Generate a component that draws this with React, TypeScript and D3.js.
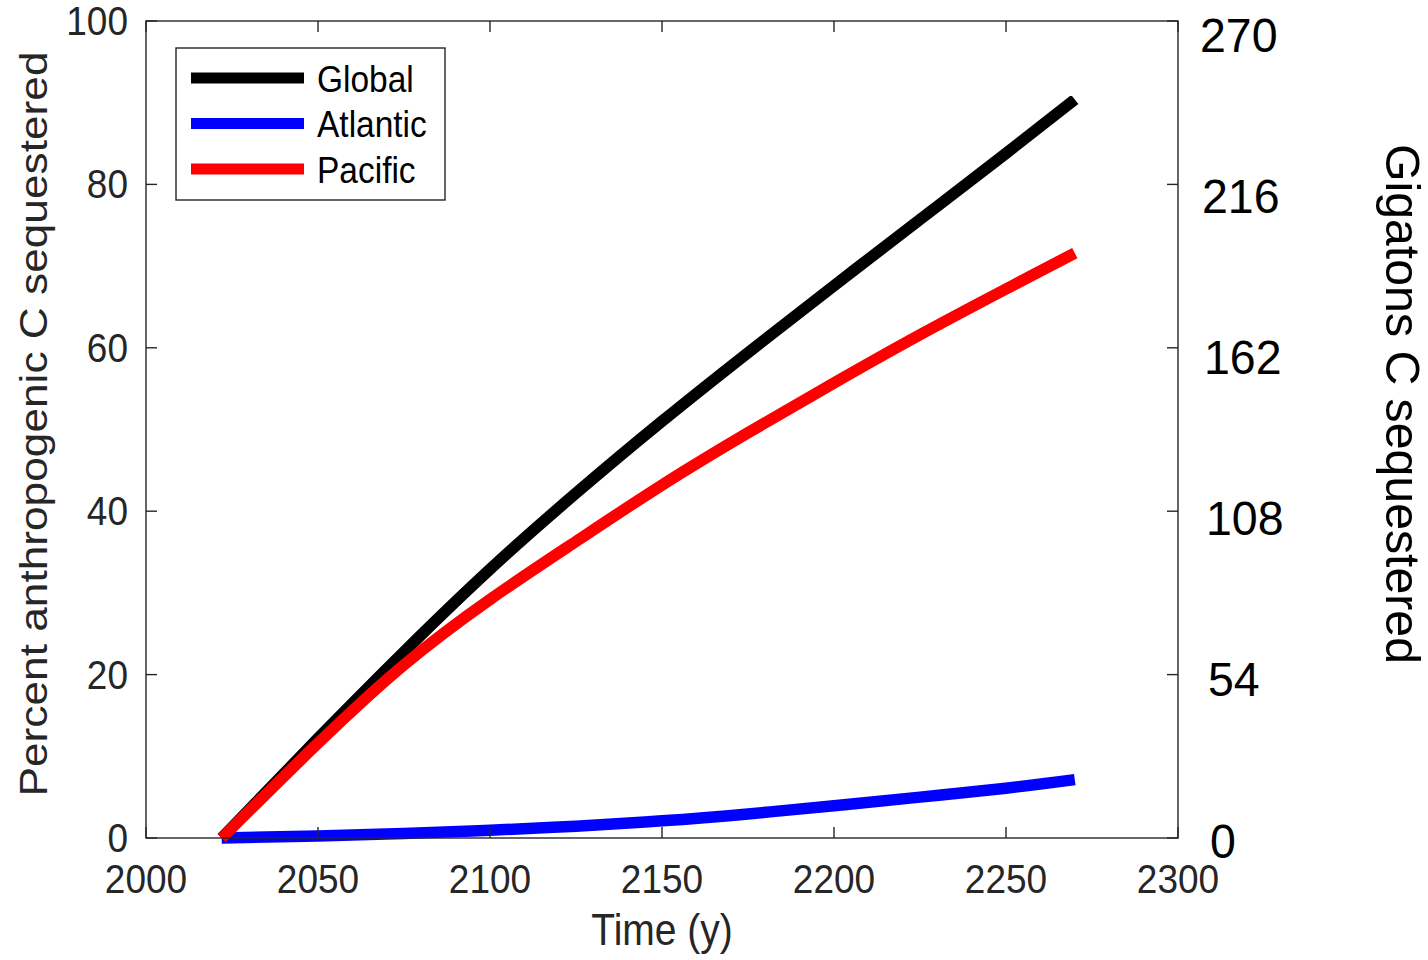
import React from 'react';
import * as d3 from 'd3';

// carbon sequestration over time, percent on the left and gigatons on the right
const years = [2022, 2050, 2075, 2100, 2125, 2150, 2175, 2200, 2225, 2250, 2270];
const globalPct = [0, 12.2, 22.8, 32.9, 42.2, 51.0, 59.4, 67.6, 75.7, 83.8, 90.4];
const atlanticPct = [0, 0.25, 0.55, 0.95, 1.45, 2.1, 2.95, 3.95, 5.0, 6.1, 7.15];
const pacificPct = [0, 11.6, 21.2, 29.2, 36.3, 43.2, 49.6, 55.7, 61.6, 67.2, 71.6];

const seriesNames = ['Global', 'Atlantic', 'Pacific'];
const seriesColors = ['#000000', '#0000ff', '#ff0000'];

const xTicks = [2000, 2050, 2100, 2150, 2200, 2250, 2300];
const yTicks = [0, 20, 40, 60, 80, 100];
const gtLabels = [270, 216, 162, 108, 54, 0];

const width = 1428;
const height = 960;
const margin = { top: 21, right: 250, bottom: 122, left: 146 };
const axisColor = '#262626';
const font = '"Liberation Sans", Arial, Helvetica, sans-serif';
const tickLen = 11;
const stretch = 1.1; // source picture looks a bit taller than wide

function App() {
  const x = d3.scaleLinear().domain([2000, 2300]).range([margin.left, width - margin.right]);
  const y = d3.scaleLinear().domain([0, 100]).range([height - margin.bottom, margin.top]);
  // right hand labels were put in by hand, not exactly on the ticks
  const gtY = d3.scaleLinear().domain([0, 270]).range([840, 34.5]);
  const gtX = d3.scaleLinear().domain([270, 0]).range([1200, 1210]);

  const line = d3.line<number>()
    .x((_, i) => x(years[i]))
    .y(d => y(d))
    .curve(d3.curveNatural);

  const data = [globalPct, atlanticPct, pacificPct];
  const [x0, x1] = x.range();
  const [yb, yt] = y.range();

  const legend = { x: 176, y: 48, w: 269, h: 152, row0: 78, rowStep: 45.5 };

  return (
    <svg width={width} height={height} style={{ position: 'absolute', left: 0, top: 0, background: '#fff' }}>
      {/* data lines */}
      <g fill="none" strokeWidth={11.5} strokeLinecap="butt" strokeLinejoin="round">
        {data.map((d, i) => (
          <path key={seriesNames[i]} d={line(d) || ''} stroke={seriesColors[i]} />
        ))}
      </g>

      {/* box + ticks */}
      <g stroke={axisColor} strokeWidth={1.4} fill="none">
        <rect x={x0} y={yt} width={x1 - x0} height={yb - yt} />
        {xTicks.map(t => (
          <g key={'xt' + t}>
            <line x1={x(t)} x2={x(t)} y1={yb} y2={yb - tickLen} />
            <line x1={x(t)} x2={x(t)} y1={yt} y2={yt + tickLen} />
          </g>
        ))}
        {yTicks.map(t => (
          <g key={'yt' + t}>
            <line x1={x0} x2={x0 + tickLen} y1={y(t)} y2={y(t)} />
            <line x1={x1} x2={x1 - tickLen} y1={y(t)} y2={y(t)} />
          </g>
        ))}
      </g>

      <g fontFamily={font} fill={axisColor}>
        {xTicks.map(t => (
          <text key={'xl' + t} transform={`translate(${x(t)},893) scale(1,${stretch})`} textAnchor="middle" fontSize={37}>
            {t}
          </text>
        ))}
        {yTicks.map(t => (
          <text key={'yl' + t} transform={`translate(128,${y(t) + 14}) scale(1,${stretch})`} textAnchor="end" fontSize={37}>
            {t}
          </text>
        ))}
        <text transform={`translate(${(x0 + x1) / 2},945) scale(1,1.12)`} textAnchor="middle" fontSize={39}>
          Time (y)
        </text>
        <text transform="translate(47,424) rotate(-90)" textAnchor="middle" fontSize={39}
          textLength={745} lengthAdjust="spacingAndGlyphs">
          Percent anthropogenic C sequestered
        </text>
      </g>

      {/* right side gigaton labels */}
      <g fontFamily={font} fill="#000">
        {gtLabels.map(v => (
          <text key={'gt' + v} transform={`translate(${gtX(v)},${gtY(v) + 17.5}) scale(1,1.05)`} fontSize={46.5}>
            {v}
          </text>
        ))}
        <text transform="translate(1386,404) rotate(90)" textAnchor="middle" fontSize={48}
          textLength={520} lengthAdjust="spacingAndGlyphs">
          Gigatons C sequestered
        </text>
      </g>

      {/* legend */}
      <g>
        <rect x={legend.x} y={legend.y} width={legend.w} height={legend.h} fill="#fff" stroke={axisColor} strokeWidth={1.4} />
        {seriesNames.map((name, i) => {
          const ry = legend.row0 + i * legend.rowStep;
          return (
            <g key={'lg' + name}>
              <line x1={191} x2={304} y1={ry} y2={ry} stroke={seriesColors[i]} strokeWidth={11} />
              <text transform={`translate(317,${ry + 13.5}) scale(1,1.12)`} fontFamily={font} fontSize={33.5} fill="#000">
                {name}
              </text>
            </g>
          );
        })}
      </g>
    </svg>
  );
}

export default App;
